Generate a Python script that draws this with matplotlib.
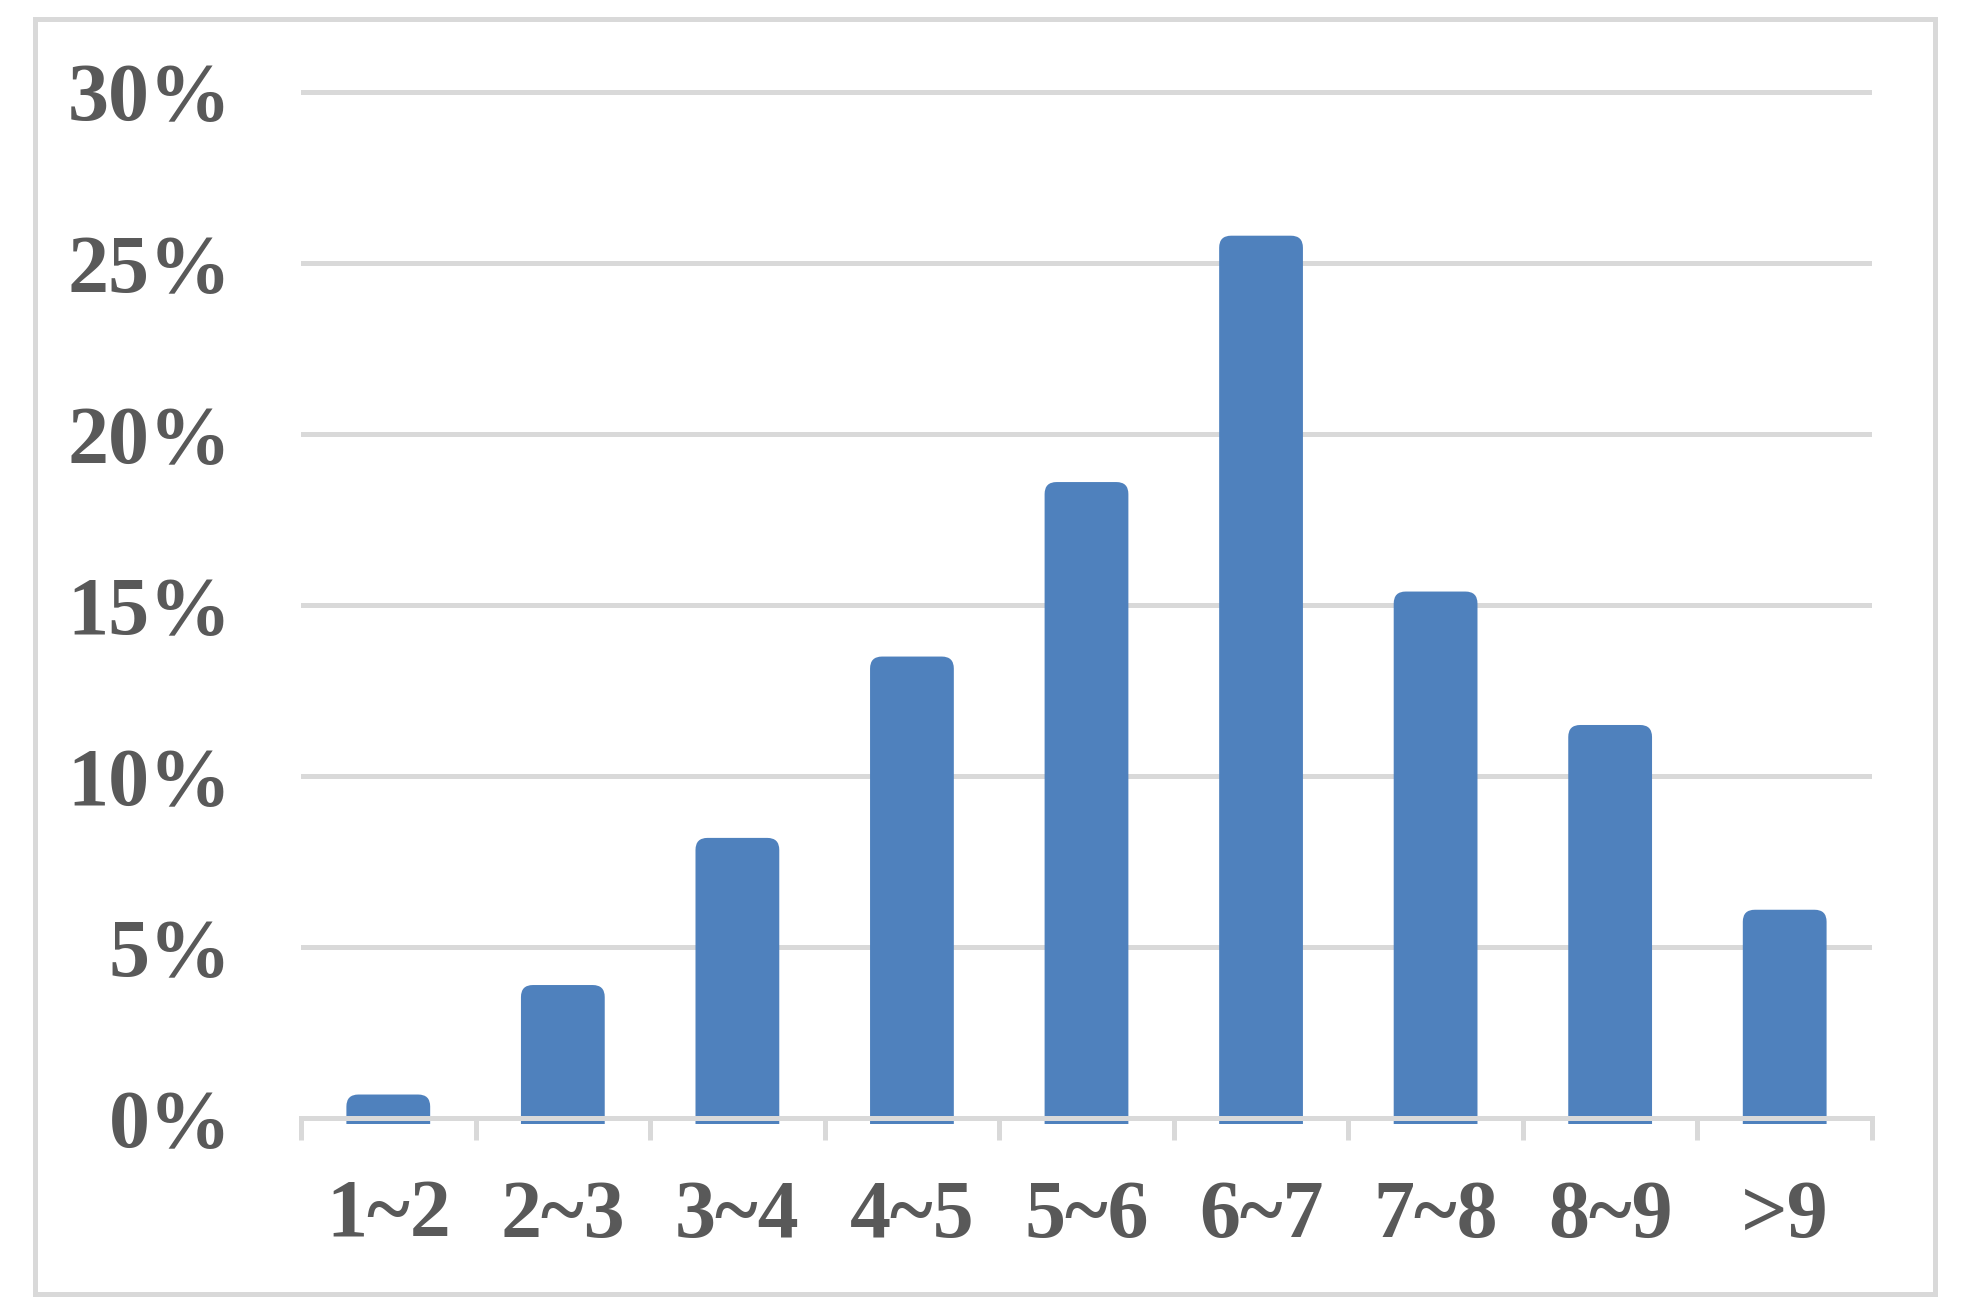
import numpy as np
import matplotlib
matplotlib.use('Agg')
import matplotlib.pyplot as plt
from matplotlib.patches import FancyBboxPatch, Rectangle

# 数据：各区间占比（%）
categories = ['1~2', '2~3', '3~4', '4~5', '5~6', '6~7', '7~8', '8~9', '>9']
shares = [0.7, 3.9, 8.2, 13.5, 18.6, 25.8, 15.4, 11.5, 6.1]
y_ticks = [0, 5, 10, 15, 20, 25, 30]
y_labels = ['0%', '5%', '10%', '15%', '20%', '25%', '30%']

bar_color = '#4F81BD'
grey = '#D9D9D9'
text_color = '#595959'

plt.rcParams['font.family'] = ['Liberation Serif', 'DejaVu Serif']
plt.rcParams['font.weight'] = 'bold'

fig = plt.figure(figsize=(19.61, 13.14), dpi=100)
ax = fig.add_axes([0.1535, 0.1449, 0.8011, 0.789])

x = np.arange(len(categories))
ylo, yhi = -0.15, 30.15
ax.set_xlim(-0.5, len(categories) - 0.5)
ax.set_ylim(ylo, yhi)

# 先画普通柱子，再换成圆角柱子
bars = ax.bar(x, shares, width=0.48, color=bar_color)
# 圆角半径换算（像素 -> 数据单位）
px_x = ax.get_window_extent().width / (len(categories))
px_y = ax.get_window_extent().height / (yhi - ylo)
r_x = 12 / px_x
aspect = px_x / px_y
for b in bars:
    bx, bw, bh = b.get_x(), b.get_width(), b.get_height()
    p = FancyBboxPatch((bx, -1), bw, bh + 1,
                       boxstyle='round,pad=0,rounding_size=%f' % r_x,
                       mutation_aspect=aspect,
                       facecolor=bar_color, edgecolor='none', zorder=2)
    ax.add_patch(p)
    b.remove()

# 网格线
ax.set_axisbelow(True)
ax.set_yticks(y_ticks)
ax.set_yticklabels(y_labels)
ax.yaxis.grid(True, color=grey, linewidth=3.6)
ax.tick_params(axis='y', length=0, pad=50, labelsize=59, labelcolor=text_color)

# 横轴：刻度在分界处，标签在中间
ax.set_xticks(np.arange(-0.5, len(categories), 1.0))
ax.set_xticklabels([])
ax.set_xticks(x, minor=True)
ax.set_xticklabels(categories, minor=True)
ax.tick_params(axis='x', which='major', length=16, width=3.6, color=grey, direction='out')
ax.tick_params(axis='x', which='minor', length=0, pad=44, labelsize=59, labelcolor=text_color)

for s in ['left', 'top', 'right']:
    ax.spines[s].set_visible(False)
ax.spines['bottom'].set_position(('data', 0))
ax.spines['bottom'].set_color(grey)
ax.spines['bottom'].set_linewidth(3.6)
ax.spines['bottom'].set_zorder(3)

# 外框
fig.patches.append(Rectangle((0.0181, 0.0156), 0.9686, 0.9699, transform=fig.transFigure,
                             fill=False, edgecolor=grey, linewidth=3.6))

plt.savefig('out.png', dpi=100)
